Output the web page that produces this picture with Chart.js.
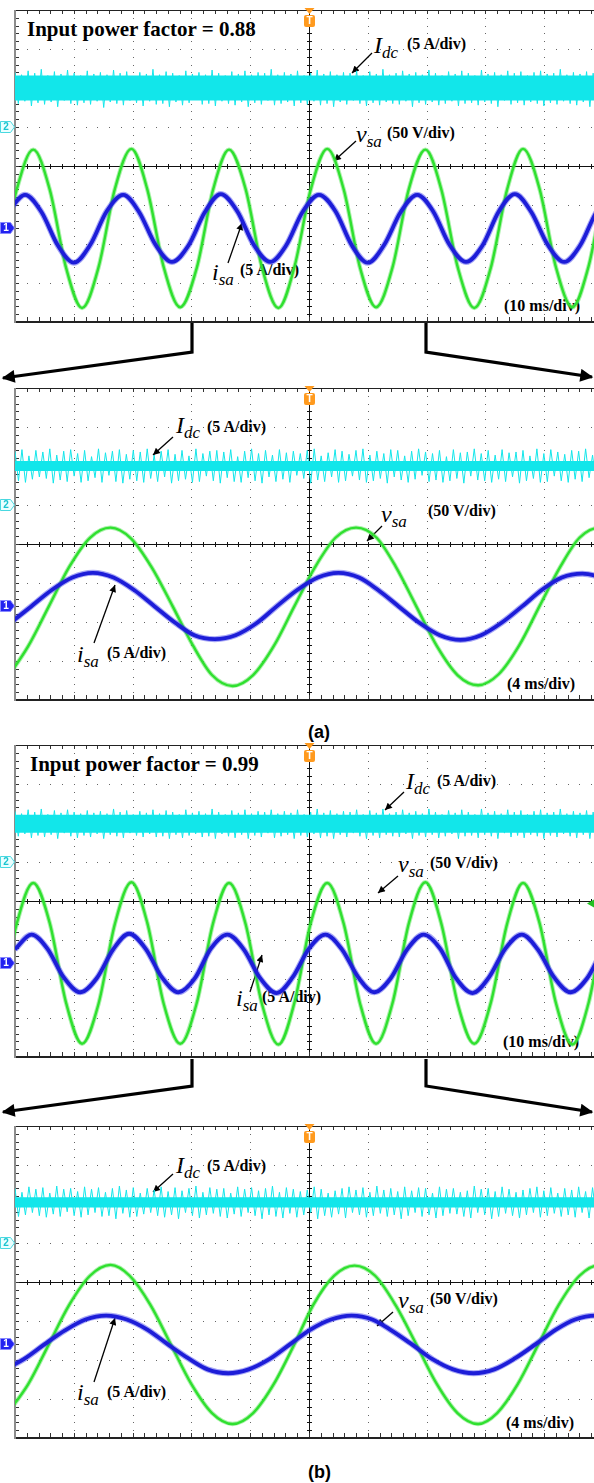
<!DOCTYPE html>
<html lang="en">
<head>
<meta charset="UTF-8">
<title>Input voltage, input current and dc-link current</title>
<script src="https://cdn.jsdelivr.net/npm/chart.js"></script>
<style>
  html, body { margin: 0; padding: 0; background: #fff; overflow: hidden; }
  #page { position: relative; width: 594px; height: 1483px; overflow: hidden; background: #fff; }
  canvas.scope { position: absolute; left: 0; z-index: 2; }
  #marks { position: absolute; left: 0; top: 0; z-index: 1; }
  .t { position: absolute; z-index: 1; white-space: nowrap; line-height: 1; color: #000;
       font-family: "Liberation Serif", "Times New Roman", serif; }
  .big { font-size: 21px; font-weight: bold; }
  .u { font-size: 16px; font-weight: bold; }
  .sym { font-size: 24px; font-style: italic; }
  .sym span { font-size: 17px; position: relative; top: 5px; }
  .cap { font-family: "Liberation Sans", Arial, sans-serif; font-size: 18px; font-weight: bold; }
</style>
</head>
<body>
<div id="page">
  <svg id="marks" width="594" height="1483">
    <defs>
      <marker id="tip" viewBox="0 0 10 10" refX="10" refY="5" markerWidth="9" markerHeight="7"
              markerUnits="userSpaceOnUse" orient="auto"><path d="M0,0 L10,5 L0,10 z" fill="#000"/></marker>
      <marker id="bigtip" viewBox="0 0 10 10" refX="9" refY="5" markerWidth="18" markerHeight="13"
              markerUnits="userSpaceOnUse" orient="auto"><path d="M0,0 L10,5 L0,10 z" fill="#000"/></marker>
    </defs>
    <g fill="none" stroke="#000" stroke-width="3.2" marker-end="url(#bigtip)">
      <polyline points="192,323 192,352 3,378"/>
      <polyline points="426,323 426,352 592,377"/>
      <polyline points="192,1059 192,1086 3,1112"/>
      <polyline points="426,1059 426,1086 592,1112"/>
    </g>
    <g stroke="#000" stroke-width="1.3" marker-end="url(#tip)">
      <line x1="372" y1="53" x2="352" y2="73"/>
      <line x1="356" y1="141" x2="334" y2="161"/>
      <line x1="228" y1="263" x2="242" y2="223"/>
      <line x1="173" y1="437" x2="153" y2="455"/>
      <line x1="382" y1="526" x2="367" y2="541"/>
      <line x1="94" y1="643" x2="115" y2="585"/>
      <line x1="404" y1="792" x2="385" y2="810"/>
      <line x1="398" y1="876" x2="378" y2="893"/>
      <line x1="250" y1="992" x2="262" y2="955"/>
      <line x1="173" y1="1174" x2="153" y2="1192"/>
      <line x1="393" y1="1312" x2="377" y2="1326"/>
      <line x1="94" y1="1382" x2="115" y2="1318"/>
    </g>
  </svg>

  <canvas class="scope" id="scopeA1" width="620" height="332" style="top:0px"></canvas>
  <canvas class="scope" id="scopeA2" width="620" height="332" style="top:378px"></canvas>
  <canvas class="scope" id="scopeB1" width="620" height="332" style="top:735px"></canvas>
  <canvas class="scope" id="scopeB2" width="620" height="332" style="top:1116px"></canvas>

  <!-- (a) PF = 0.88 -->
  <div class="t big" style="left:27px;top:19px">Input power factor = 0.88</div>
  <div class="t sym" style="left:374px;top:33px">I<span>dc</span></div>
  <div class="t u" style="left:407px;top:36px">(5 A/div)</div>
  <div class="t sym" style="left:356px;top:122px">v<span>sa</span></div>
  <div class="t u" style="left:387px;top:125px">(50 V/div)</div>
  <div class="t sym" style="left:212px;top:260px">i<span>sa</span></div>
  <div class="t u" style="left:240px;top:262px">(5 A/div)</div>
  <div class="t u" style="left:504px;top:298px">(10 ms/div)</div>

  <div class="t sym" style="left:176px;top:413px">I<span>dc</span></div>
  <div class="t u" style="left:207px;top:419px">(5 A/div)</div>
  <div class="t sym" style="left:381px;top:502px">v<span>sa</span></div>
  <div class="t u" style="left:428px;top:503px">(50 V/div)</div>
  <div class="t sym" style="left:77px;top:642px">i<span>sa</span></div>
  <div class="t u" style="left:107px;top:645px">(5 A/div)</div>
  <div class="t u" style="left:507px;top:676px">(4 ms/div)</div>
  <div class="t cap" style="left:308px;top:723px">(a)</div>

  <!-- (b) PF = 0.99 -->
  <div class="t big" style="left:30px;top:754px">Input power factor = 0.99</div>
  <div class="t sym" style="left:406px;top:769px">I<span>dc</span></div>
  <div class="t u" style="left:437px;top:773px">(5 A/div)</div>
  <div class="t sym" style="left:398px;top:852px">v<span>sa</span></div>
  <div class="t u" style="left:430px;top:855px">(50 V/div)</div>
  <div class="t sym" style="left:236px;top:986px">i<span>sa</span></div>
  <div class="t u" style="left:262px;top:989px">(5 A/div)</div>
  <div class="t u" style="left:503px;top:1034px">(10 ms/div)</div>

  <div class="t sym" style="left:176px;top:1153px">I<span>dc</span></div>
  <div class="t u" style="left:207px;top:1158px">(5 A/div)</div>
  <div class="t sym" style="left:398px;top:1288px">v<span>sa</span></div>
  <div class="t u" style="left:430px;top:1291px">(50 V/div)</div>
  <div class="t sym" style="left:77px;top:1380px">i<span>sa</span></div>
  <div class="t u" style="left:107px;top:1384px">(5 A/div)</div>
  <div class="t u" style="left:506px;top:1415px">(4 ms/div)</div>
  <div class="t cap" style="left:308px;top:1463px">(b)</div>
</div>

<script>
// Channel setup: ground marker offsets (divisions from centre) and probe scales
const CH1_OFFSET = -1.6;   // vsa and isa share the channel-1 ground
const CH2_OFFSET = 1.0;    // Idc ground
const V_PER_DIV = 50;
const A_PER_DIV = 5;

const GREEN = '#2fe02f';
const BLUE = '#1d1dd8';
const CYAN = '#12e6ea';

// ---- (a) PF = 0.88, 10 ms/div ----
const vsaTimeA1 = [-2.5, 0.3, 3.1, 5.9, 8.7, 11.4, 14.2, 17.0, 19.8, 22.5, 25.3, 28.1, 30.9, 33.7, 36.4, 39.2, 42.0, 44.8, 47.5, 50.3,
                   53.1, 55.9, 58.7, 61.4, 64.2, 67.0, 69.8, 72.5, 75.3, 78.1, 80.9, 83.7, 86.4, 89.2, 92.0, 94.8, 97.5, 100.3, 103.1];
const vsaA1 = [-50, 50, 101, 50, -51, -102, -50, 51, 102, 50, -50, -101, -51, 50, 101, 51, -50, -102, -50, 50,
               102, 50, -51, -101, -50, 51, 101, 50, -50, -102, -51, 50, 102, 51, -50, -101, -50, 50, 101];
const isaTimeA1 = [-1.1, 1.7, 4.5, 7.3, 10.0, 12.8, 15.6, 18.4, 21.1, 23.9, 26.7, 29.5, 32.3, 35.0, 37.8, 40.6, 43.4, 46.1, 48.9,
                   51.7, 54.5, 57.3, 60.0, 62.8, 65.6, 68.4, 71.1, 73.9, 76.7, 79.5, 82.3, 85.0, 87.8, 90.6, 93.4, 96.1, 98.9, 101.7];
const isaA1 = [2.2, 4.3, 2.1, -2.2, -4.4, -2.1, 2.2, 4.3, 2.1, -2.1, -4.3, -2.2, 2.1, 4.4, 2.2, -2.1, -4.3, -2.2, 2.1,
               4.3, 2.2, -2.2, -4.4, -2.1, 2.1, 4.3, 2.2, -2.1, -4.3, -2.2, 2.2, 4.4, 2.1, -2.1, -4.3, -2.2, 2.1, 4.3];
const idcA1 = [7.0, 3.0, 6.7, 3.3, 7.2, 2.7, 6.9, 3.1, 7.4, 2.9, 6.6, 3.2, 7.1, 2.6, 6.8, 3.4, 7.3, 3.0, 6.9, 2.8,
               6.6, 3.1, 7.2, 2.9, 6.8, 3.3, 7.0, 2.5, 6.7, 3.2, 7.3, 3.0, 6.9, 2.8, 7.1, 3.4, 6.5, 3.1, 7.0, 2.7,
               6.8, 3.3, 7.4, 2.9, 6.7, 3.0, 7.1, 2.6, 6.9, 3.2, 6.6, 2.8, 7.2, 3.1, 6.8, 3.5, 7.0, 2.9, 6.7, 3.0,
               7.3, 2.7, 6.9, 3.3, 6.6, 3.0, 7.1, 2.8, 6.8, 3.2, 7.2, 2.6, 6.7, 3.1, 7.0, 2.9, 6.9, 3.4, 7.4, 2.8,
               6.7, 3.0, 7.0, 3.2, 6.8, 2.7, 7.2, 3.1, 6.6, 2.9, 6.9, 3.3, 7.3, 2.8, 6.8, 3.0, 7.1, 2.6, 6.7, 3.2,
               7.0, 2.9, 6.9, 3.4, 7.2, 3.0, 6.6, 2.7, 7.1, 3.1, 6.8, 2.8, 7.4, 3.2, 6.7, 3.0, 6.9, 2.9, 7.2, 3.3,
               6.8, 2.6, 7.0, 3.1, 6.7, 2.9, 7.3, 3.2, 6.9, 2.8, 6.6, 3.0, 7.1, 3.3, 6.8, 2.7, 7.2, 3.0, 6.9, 3.1,
               6.6, 2.8, 7.3, 3.2, 6.8, 3.0, 7.0, 2.6, 6.7, 3.4, 7.2, 2.9, 6.9, 3.1, 7.1, 2.8, 6.6, 3.2, 7.0, 3.0,
               7.2, 2.7, 6.8, 3.1, 6.9, 2.9, 7.4, 3.3, 6.7, 3.0, 7.0, 2.8, 6.8, 3.2, 7.1, 2.6, 6.9, 3.0, 6.7, 3.1];
const idcCoreA1 = [3.4, 6.6];

// ---- (a) PF = 0.88, 4 ms/div ----
const vsaTimeA2 = [-0.4, 0.9, 2.3, 3.7, 5.1, 6.5, 7.9, 9.3, 10.7, 12.1, 13.4, 14.8, 16.2, 17.6, 19.0, 20.4,
                   21.8, 23.2, 24.6, 25.9, 27.3, 28.7, 30.1, 31.5, 32.9, 34.3, 35.7, 37.1, 38.4, 39.8, 41.2];
const vsaA2 = [-88, -51, 0, 51, 88, 101, 87, 50, 1, -50, -88, -102, -88, -51, 0, 50,
               88, 101, 88, 51, 0, -51, -88, -101, -87, -50, 1, 51, 88, 101, 87];
const isaTimeA2 = [-0.3, 1.1, 2.5, 3.9, 5.3, 6.7, 8.1, 9.5, 10.9, 12.2, 13.6, 15.0, 16.4, 17.8, 19.2,
                   20.6, 22.0, 23.4, 24.7, 26.1, 27.5, 28.9, 30.3, 31.7, 33.1, 34.5, 35.9, 37.2, 38.6, 40.0];
const isaA2 = [-2.1, 0.0, 2.1, 3.7, 4.3, 3.7, 2.1, 0.0, -2.1, -3.7, -4.2, -3.7, -2.2, 0.0, 2.1,
               3.7, 4.3, 3.7, 2.1, 0.0, -2.1, -3.7, -4.3, -3.7, -2.1, 0.0, 2.2, 3.7, 4.2, 3.7];
const idcA2 = [6.9, 3.1, 7.1, 2.9, 6.3, 3.3, 7.0, 3.6, 6.8, 3.4, 7.2, 2.8, 6.4, 3.2, 6.9, 3.0, 7.1, 3.7, 6.6, 2.9,
               7.0, 3.1, 6.2, 3.5, 7.2, 2.9, 6.7, 3.8, 6.9, 3.0, 7.1, 2.8, 6.5, 3.3, 7.0, 3.1, 6.8, 2.9, 7.2, 3.4,
               6.4, 3.0, 6.9, 3.6, 7.1, 2.8, 6.5, 3.1, 7.0, 3.3, 6.3, 2.9, 7.2, 3.0, 6.6, 3.7, 6.9, 3.1, 7.0, 2.8,
               6.8, 3.5, 7.1, 3.0, 6.2, 2.9, 6.9, 3.5, 7.2, 3.1, 6.6, 2.8, 7.0, 3.6, 6.4, 3.0, 7.1, 3.3, 6.7, 2.9,
               6.9, 3.8, 6.6, 3.4, 7.0, 2.8, 7.2, 3.2, 6.3, 3.0, 6.7, 3.6, 7.1, 2.9, 6.9, 3.1, 6.5, 3.7, 7.0, 3.2,
               7.2, 2.9, 6.4, 3.1, 6.9, 3.4, 6.6, 2.8, 7.1, 3.6, 7.0, 3.2, 6.3, 2.9, 6.9, 3.3, 7.2, 3.8, 6.8, 3.0,
               6.6, 3.2, 7.0, 2.9, 6.2, 3.1, 7.1, 3.4, 6.7, 2.8, 6.8, 3.7, 7.2, 3.2, 6.6, 3.1, 7.0, 2.9, 6.4, 3.3,
               7.1, 3.0, 6.7, 3.6, 6.8, 2.8, 7.0, 3.1, 6.3, 3.4, 7.2, 2.9, 6.6, 3.0, 7.1, 3.7, 6.8, 3.1, 6.5, 2.9,
               7.0, 3.3, 6.9, 3.0, 7.2, 3.5, 6.4, 2.8, 6.8, 3.2];
const idcCoreA2 = [4.35, 5.65];

// ---- (b) PF = 0.99, 10 ms/div ----
const vsaTimeB1 = [-2.5, 0.3, 3.1, 5.9, 8.7, 11.4, 14.2, 17.0, 19.8, 22.5, 25.3, 28.1, 30.9, 33.7, 36.4, 39.2, 42.0, 44.8, 47.5, 50.3,
                   53.1, 55.9, 58.7, 61.4, 64.2, 67.0, 69.8, 72.5, 75.3, 78.1, 80.9, 83.7, 86.4, 89.2, 92.0, 94.8, 97.5, 100.3, 103.1];
const vsaB1 = [-52, 51, 103, 52, -51, -103, -52, 51, 104, 52, -52, -103, -51, 52, 103, 51, -52, -104, -51, 52,
               103, 51, -52, -103, -51, 52, 104, 51, -52, -103, -51, 51, 103, 52, -51, -104, -52, 51, 103];
const isaTimeB1 = [0.0, 2.8, 5.5, 8.3, 11.1, 13.9, 16.7, 19.4, 22.2, 25.0, 27.8, 30.6, 33.3, 36.1, 38.9, 41.7, 44.5, 47.2, 50.0,
                   52.8, 55.6, 58.4, 61.1, 63.9, 66.7, 69.5, 72.3, 75.0, 77.8, 80.6, 83.4, 86.2, 88.9, 91.7, 94.5, 97.3, 100.1, 102.8];
const isaB1 = [1.8, 3.7, 1.9, -1.8, -3.7, -1.9, 1.8, 3.8, 1.9, -1.8, -3.7, -1.9, 1.9, 3.7, 1.8, -1.9, -3.8, -1.8, 1.9,
               3.7, 1.8, -1.8, -3.7, -1.9, 1.8, 3.7, 1.9, -1.9, -3.8, -1.8, 1.9, 3.7, 1.8, -1.8, -3.7, -1.9, 1.8, 3.7];
const idcB1 = [6.5, 3.3, 6.2, 3.6, 6.7, 3.1, 6.4, 3.4, 6.8, 3.2, 6.1, 3.5, 6.6, 3.0, 6.3, 3.7, 6.7, 3.3, 6.4, 3.1,
               6.2, 3.4, 6.6, 3.2, 6.3, 3.6, 6.5, 3.0, 6.2, 3.5, 6.8, 3.3, 6.4, 3.1, 6.6, 3.7, 6.1, 3.4, 6.5, 3.2,
               6.3, 3.6, 6.7, 3.2, 6.2, 3.3, 6.6, 3.0, 6.4, 3.5, 6.1, 3.1, 6.7, 3.4, 6.3, 3.6, 6.5, 3.2, 6.2, 3.3,
               6.8, 3.0, 6.4, 3.6, 6.1, 3.3, 6.6, 3.1, 6.3, 3.5, 6.7, 3.0, 6.2, 3.4, 6.5, 3.2, 6.4, 3.7, 6.7, 3.1,
               6.2, 3.3, 6.5, 3.5, 6.3, 3.0, 6.7, 3.4, 6.1, 3.2, 6.4, 3.6, 6.8, 3.1, 6.3, 3.3, 6.6, 3.0, 6.2, 3.5,
               6.5, 3.2, 6.4, 3.7, 6.7, 3.3, 6.1, 3.0, 6.6, 3.4, 6.3, 3.1, 6.8, 3.5, 6.2, 3.3, 6.4, 3.2, 6.7, 3.6,
               6.3, 3.0, 6.5, 3.4, 6.2, 3.2, 6.8, 3.5, 6.4, 3.1, 6.1, 3.3, 6.6, 3.6, 6.3, 3.0, 6.7, 3.3, 6.4, 3.4,
               6.1, 3.1, 6.8, 3.5, 6.3, 3.3, 6.5, 3.0, 6.2, 3.7, 6.7, 3.2, 6.4, 3.4, 6.6, 3.1, 6.1, 3.5, 6.5, 3.3,
               6.7, 3.0, 6.3, 3.4, 6.4, 3.2, 6.8, 3.6, 6.2, 3.3, 6.5, 3.1, 6.3, 3.5, 6.6, 3.0, 6.4, 3.3, 6.2, 3.4];
const idcCoreB1 = [3.75, 6.05];

// ---- (b) PF = 0.99, 4 ms/div ----
const vsaTimeB2 = [-0.5, 0.9, 2.3, 3.7, 5.1, 6.5, 7.8, 9.2, 10.6, 12.0, 13.4, 14.8, 16.2, 17.6, 19.0, 20.3,
                   21.7, 23.1, 24.5, 25.9, 27.3, 28.7, 30.1, 31.5, 32.8, 34.2, 35.6, 37.0, 38.4, 39.8, 41.2];
const vsaB2 = [-88, -51, 0, 51, 88, 102, 88, 51, 0, -51, -88, -102, -88, -51, 0, 51,
               88, 101, 88, 50, 0, -51, -88, -102, -88, -51, 0, 51, 88, 102, 88];
const isaTimeB2 = [-0.7, 0.6, 2.0, 3.4, 4.8, 6.2, 7.6, 9.0, 10.4, 11.8, 13.1, 14.5, 15.9, 17.3, 18.7, 20.1,
                   21.5, 22.9, 24.3, 25.6, 27.0, 28.4, 29.8, 31.2, 32.6, 34.0, 35.4, 36.8, 38.1, 39.5, 40.9];
const isaB2 = [-3.2, -1.9, 0.0, 1.8, 3.2, 3.7, 3.2, 1.9, 0.0, -1.8, -3.2, -3.7, -3.2, -1.9, 0.0, 1.9,
               3.2, 3.7, 3.2, 1.8, 0.0, -1.9, -3.2, -3.7, -3.2, -1.8, 0.0, 1.9, 3.2, 3.7, 3.2];
const idcB2 = [7.0, 3.4, 6.5, 3.6, 7.2, 3.9, 6.9, 3.5, 7.1, 3.3, 6.4, 3.7, 7.3, 3.4, 6.9, 4.0, 7.0, 3.5, 6.6, 3.3,
               7.2, 3.6, 6.9, 3.9, 7.1, 3.4, 6.5, 3.5, 7.0, 3.1, 7.3, 3.8, 6.8, 3.3, 7.1, 3.4, 6.4, 3.7, 7.0, 3.9,
               6.8, 3.5, 7.2, 3.3, 6.6, 3.6, 7.1, 3.1, 6.7, 3.9, 7.0, 3.5, 7.3, 3.2, 6.5, 3.6, 7.1, 3.8, 6.9, 3.4,
               7.0, 3.2, 6.4, 3.7, 7.2, 3.4, 6.9, 3.9, 7.1, 3.5, 6.7, 3.1, 7.0, 3.6, 7.3, 3.4, 6.5, 3.2, 7.1, 3.8,
               6.9, 3.3, 6.6, 3.6, 6.8, 3.9, 7.2, 3.1, 6.9, 3.5, 6.4, 3.3, 6.7, 3.7, 7.0, 3.2, 7.2, 3.9, 6.8, 3.6,
               7.1, 3.3, 6.5, 3.5, 7.3, 3.8, 6.8, 3.4, 7.0, 3.6, 6.6, 3.1, 7.2, 3.5, 6.7, 3.9, 7.1, 3.4, 7.0, 3.6,
               6.4, 3.2, 7.2, 3.5, 6.9, 3.8, 7.0, 3.7, 6.5, 3.4, 6.7, 3.2, 7.3, 3.9, 6.9, 3.6, 7.0, 3.1, 6.6, 3.4,
               7.2, 3.8, 6.9, 3.5, 6.5, 3.2, 6.8, 3.6, 7.0, 3.9, 7.2, 3.3, 6.7, 3.5, 7.1, 3.8, 6.4, 3.4, 7.0, 3.6,
               6.8, 3.3, 7.2, 3.9, 6.6, 3.2, 7.1, 3.6, 7.0, 3.4];
const idcCoreB2 = [4.55, 5.85];

// graticule: dotted divisions, centre cross, frame ticks, channel and trigger markers
const graticule = {
  id: 'graticule',
  beforeDatasetsDraw(chart, args, opts) {
    const { ctx, chartArea: a, scales: { x, div } } = chart;
    const m = opts.msPerDiv;
    const px = v => Math.round(x.getPixelForValue(v));
    const py = v => Math.round(div.getPixelForValue(v));
    ctx.save();
    ctx.fillStyle = '#666';
    for (let i = 1; i < 10; i++) {
      if (i === 5) continue;
      for (let j = -19; j <= 19; j++) ctx.fillRect(px(i * m), py(j / 5), 1, 1);
    }
    for (let j = -3; j <= 3; j++) {
      if (j === 0) continue;
      for (let i = 1; i < 50; i++) ctx.fillRect(px(i * m / 5), py(j), 1, 1);
    }
    // centre cross
    const cx = px(5 * m), cy = py(0);
    ctx.fillStyle = '#111';
    ctx.fillRect(a.left, cy, a.right - a.left, 1);
    ctx.fillRect(cx, a.top, 1, a.bottom - a.top);
    for (let i = 1; i < 50; i++) ctx.fillRect(px(i * m / 5), cy - 2, 1, 5);
    for (let j = -19; j <= 19; j++) ctx.fillRect(cx - 2, py(j / 5), 5, 1);
    // frame and its ticks
    ctx.fillStyle = '#333';
    for (let i = 1; i < 50; i++) {
      ctx.fillRect(px(i * m / 5), a.top, 1, 4);
      ctx.fillRect(px(i * m / 5), a.bottom - 5, 1, 4);
    }
    for (let j = -19; j <= 19; j++) ctx.fillRect(a.left, py(j / 5), 4, 1);
    ctx.fillStyle = '#222';
    ctx.fillRect(a.left, a.top, a.right - a.left, 1);
    ctx.fillRect(a.left, a.bottom - 1, a.right - a.left, 2);
    ctx.fillStyle = '#8c8c8c';
    ctx.fillRect(a.left - 1, a.top, 2, a.bottom - a.top + 1);
    ctx.restore();
  },
  afterDatasetsDraw(chart, args, opts) {
    const { ctx, chartArea: a, scales } = chart;
    ctx.save();
    const tag = (y, label, fill, stroke, ink) => {
      ctx.beginPath();
      ctx.moveTo(0.5, y - 5.5); ctx.lineTo(10.5, y - 5.5); ctx.lineTo(14.5, y);
      ctx.lineTo(10.5, y + 5.5); ctx.lineTo(0.5, y + 5.5); ctx.closePath();
      ctx.fillStyle = fill; ctx.fill();
      ctx.strokeStyle = stroke; ctx.lineWidth = 1; ctx.stroke();
      ctx.fillStyle = ink;
      ctx.font = 'bold 10px "Liberation Sans"';
      ctx.textAlign = 'center'; ctx.textBaseline = 'middle';
      ctx.fillText(label, 6, y + 0.5);
    };
    tag(Math.round(scales.idc.getPixelForValue(0)), '2', '#eaffff', '#49d8e0', '#19c4d0');
    tag(Math.round(scales.isa.getPixelForValue(0)), '1', '#2222f0', '#8888ff', '#fff');
    // trigger level marker on the right edge of the screen
    if (opts.trigLevel !== undefined) {
      const ty = Math.round(scales.vsa.getPixelForValue(opts.trigLevel)) + 0.5;
      ctx.fillStyle = '#22c022';
      ctx.beginPath();
      ctx.moveTo(587, ty); ctx.lineTo(594, ty - 4); ctx.lineTo(594, ty + 4); ctx.closePath();
      ctx.fill();
    }
    // trigger position marker
    const tx = Math.round(scales.x.getPixelForValue(5 * opts.msPerDiv)) + 0.5;
    ctx.fillStyle = '#ff9a1e';
    ctx.beginPath();
    ctx.moveTo(tx - 5, a.top - 2); ctx.lineTo(tx + 5, a.top - 2); ctx.lineTo(tx, a.top + 4); ctx.closePath();
    ctx.fill();
    ctx.beginPath();
    ctx.roundRect(tx - 5.5, a.top + 5, 11, 12, 2);
    ctx.fill();
    ctx.fillStyle = '#fff';
    ctx.font = 'bold 10px "Liberation Sans"';
    ctx.textAlign = 'center'; ctx.textBaseline = 'middle';
    ctx.fillText('T', tx, a.top + 11.5);
    ctx.restore();
  }
};

const xy = (ts, ys) => ts.map((t, k) => ({ x: t, y: ys[k] }));

function scope(id, msPerDiv, vT, v, iT, i, idc, core, trigLevel) {
  const span = 10 * msPerDiv;
  const step = span / (idc.length - 1);
  const vPts = xy(vT, v), iPts = xy(iT, i);
  return new Chart(document.getElementById(id), {
    type: 'line',
    data: {
      datasets: [
        { label: 'isa', yAxisID: 'isa', data: iPts, borderColor: BLUE, borderWidth: 3.8,
          cubicInterpolationMode: 'monotone', order: 0 },
        { label: 'isa noise', yAxisID: 'isa', data: iPts, borderColor: 'rgba(60,60,235,0.45)', borderWidth: 6,
          cubicInterpolationMode: 'monotone', order: 1 },
        { label: 'vsa', yAxisID: 'vsa', data: vPts, borderColor: GREEN, borderWidth: 2.4,
          cubicInterpolationMode: 'monotone', order: 2 },
        { label: 'vsa noise', yAxisID: 'vsa', data: vPts, borderColor: 'rgba(70,225,70,0.45)', borderWidth: 4.4,
          cubicInterpolationMode: 'monotone', order: 3 },
        { label: 'Idc', yAxisID: 'idc', data: idc.map((val, k) => ({ x: k * step, y: val })),
          borderColor: CYAN, borderWidth: 1, order: 4 },
        { label: 'Idc core high', yAxisID: 'idc', data: [{ x: 0, y: core[1] }, { x: span, y: core[1] }],
          borderWidth: 0, backgroundColor: CYAN, fill: '+1', order: 5 },
        { label: 'Idc core low', yAxisID: 'idc', data: [{ x: 0, y: core[0] }, { x: span, y: core[0] }],
          borderWidth: 0, order: 6 }
      ]
    },
    options: {
      responsive: false,
      animation: false,
      events: [],
      layout: { padding: { left: 15, right: 17, top: 10, bottom: 10 } },
      elements: { point: { radius: 0 }, line: { tension: 0 } },
      plugins: { legend: { display: false }, tooltip: { enabled: false }, graticule: { msPerDiv, trigLevel } },
      scales: {
        x: { type: 'linear', min: 0, max: span, display: false },
        div: { type: 'linear', axis: 'y', min: -4, max: 4, display: false },
        vsa: { type: 'linear', axis: 'y', display: false,
               min: (-4 - CH1_OFFSET) * V_PER_DIV, max: (4 - CH1_OFFSET) * V_PER_DIV },
        isa: { type: 'linear', axis: 'y', display: false,
               min: (-4 - CH1_OFFSET) * A_PER_DIV, max: (4 - CH1_OFFSET) * A_PER_DIV },
        idc: { type: 'linear', axis: 'y', display: false,
               min: (-4 - CH2_OFFSET) * A_PER_DIV, max: (4 - CH2_OFFSET) * A_PER_DIV }
      }
    },
    plugins: [graticule]
  });
}

scope('scopeA1', 10, vsaTimeA1, vsaA1, isaTimeA1, isaA1, idcA1, idcCoreA1);
scope('scopeA2', 4, vsaTimeA2, vsaA2, isaTimeA2, isaA2, idcA2, idcCoreA2);
scope('scopeB1', 10, vsaTimeB1, vsaB1, isaTimeB1, isaB1, idcB1, idcCoreB1, 78);
scope('scopeB2', 4, vsaTimeB2, vsaB2, isaTimeB2, isaB2, idcB2, idcCoreB2);
</script>
</body>
</html>
